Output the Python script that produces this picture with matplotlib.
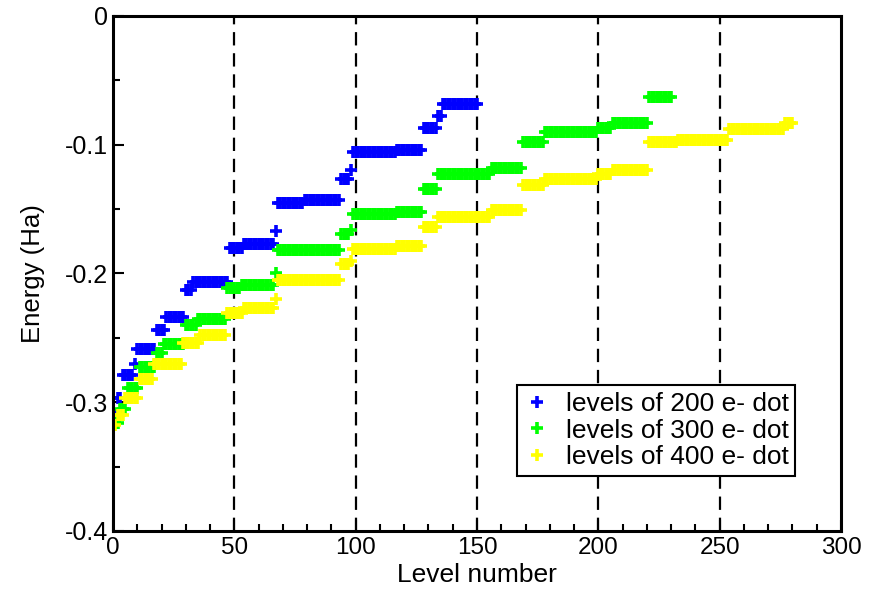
import numpy as np
import matplotlib
matplotlib.use("Agg")
import matplotlib.pyplot as plt
from matplotlib.ticker import MultipleLocator

# Niveles de energía agrupados por capas: energía (Ha) y número de niveles en cada capa
e_200 = [-0.311, -0.297, -0.279, -0.270, -0.259, -0.244, -0.234, -0.213, -0.207,
         -0.180, -0.177, -0.167, -0.145, -0.143, -0.127, -0.120, -0.106, -0.104,
         -0.087, -0.078, -0.068]
n_200 = [1, 2, 5, 1, 8, 4, 8, 3, 15, 6, 13, 1, 11, 15, 4, 1, 18, 11, 6, 2, 15]

e_300 = [-0.316, -0.305, -0.289, -0.273, -0.262, -0.255, -0.240, -0.235, -0.211,
         -0.209, -0.200, -0.182, -0.169, -0.166, -0.154, -0.152, -0.134, -0.123,
         -0.118, -0.098, -0.090, -0.087, -0.083, -0.063]
n_300 = [2, 3, 5, 7, 3, 9, 5, 12, 6, 14, 1, 26, 4, 1, 18, 11, 6, 22, 13, 9, 22, 6, 15, 10]

e_400 = [-0.318, -0.310, -0.297, -0.282, -0.270, -0.254, -0.248, -0.231, -0.227,
         -0.220, -0.205, -0.193, -0.190, -0.181, -0.179, -0.164, -0.156, -0.151,
         -0.131, -0.127, -0.123, -0.120, -0.098, -0.096, -0.088, -0.083]
n_400 = [1, 3, 6, 6, 12, 7, 11, 7, 13, 1, 26, 4, 1, 18, 11, 6, 22, 13, 9, 22, 6, 15,
         12, 21, 23, 4]

series = [
    (e_200, n_200, "#0000ff", "levels of 200 e- dot"),
    (e_300, n_300, "#00ff00", "levels of 300 e- dot"),
    (e_400, n_400, "#ffff00", "levels of 400 e- dot"),
]

plt.rcParams['font.family'] = ['Liberation Sans', 'DejaVu Sans']

fig = plt.figure(figsize=(8.81, 5.94), dpi=100)
ax = fig.add_axes([0.1283, 0.1061, 0.8263, 0.8670])

# Líneas verticales de referencia
for xv in [50, 100, 150, 200, 250]:
    ax.axvline(xv, color="black", lw=1.6, ls=(0, (6, 3.5)), zorder=1)

# Graficar cada conjunto de niveles con marcadores '+'
for energias, cuentas, color, etiqueta in series:
    e = np.repeat(energias, cuentas)
    nivel = np.arange(1, len(e) + 1)
    ax.plot(nivel, e, ls="none", marker="+", ms=8.5, mew=2.6, color=color,
            label=etiqueta, zorder=2)

ax.set_xlim(0, 300)
ax.set_ylim(-0.4, 0)
ax.xaxis.set_major_locator(MultipleLocator(50))
ax.xaxis.set_minor_locator(MultipleLocator(10))
ax.yaxis.set_minor_locator(MultipleLocator(0.05))
ax.set_yticks([0, -0.1, -0.2, -0.3, -0.4])
ax.set_yticklabels(["0", "-0.1", "-0.2", "-0.3", "-0.4"])

ax.tick_params(which="both", direction="in", top=False, right=False, width=1.5)
ax.tick_params(which="major", length=8, labelsize=18)
ax.tick_params(which="minor", length=5)
ax.tick_params(axis="x", labelsize=17.5, pad=4)
for sp in ax.spines.values():
    sp.set_linewidth(2.2)

ax.set_xlabel("Level number", fontsize=19, labelpad=3)
ax.set_ylabel("Energy (Ha)", fontsize=18.5, labelpad=14)

leg = ax.legend(loc="lower right", bbox_to_anchor=(0.937, 0.107), borderaxespad=0,
                fontsize=19, frameon=True, fancybox=False, edgecolor="black",
                framealpha=1, handlelength=1.0, handletextpad=0.6, borderpad=0.25,
                labelspacing=0.1)
leg.get_frame().set_linewidth(1.5)

fig.savefig("out.png", dpi=100)
